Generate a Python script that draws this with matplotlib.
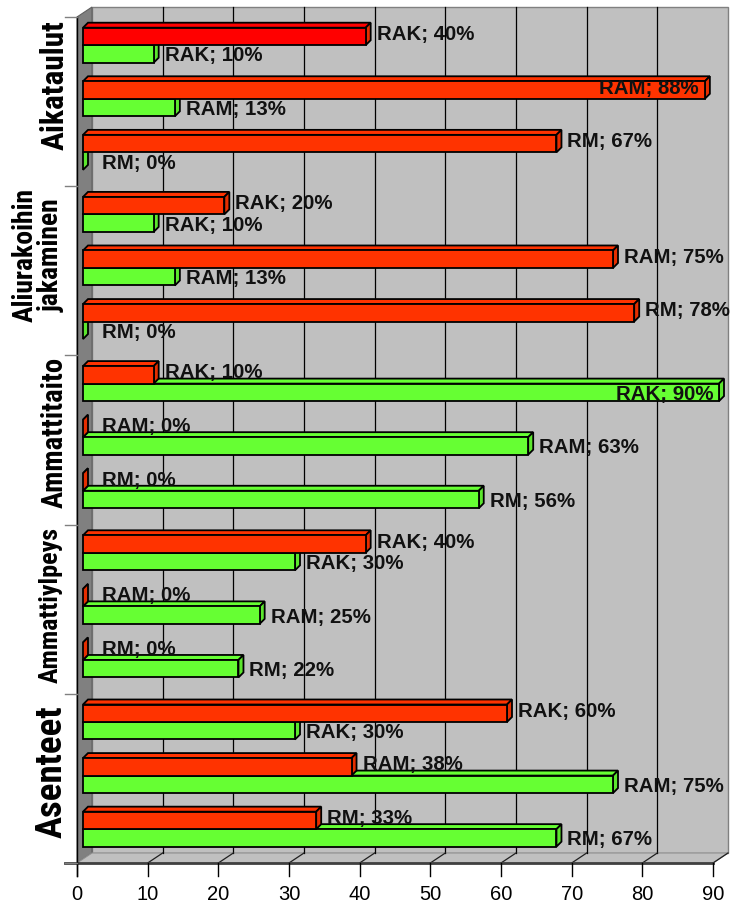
import matplotlib
matplotlib.use("Agg")
import matplotlib.pyplot as plt
from matplotlib.patches import Polygon
from matplotlib import font_manager
from matplotlib.font_manager import FontProperties

# ---- data ----
groups = ["Aikataulut", "Aliurakoihin\njakaminen", "Ammattitaito", "Ammattiylpeys", "Asenteet"]
roles = ["RAK", "RAM", "RM"]
red_values = [[40, 88, 67], [20, 75, 78], [10, 0, 0], [40, 0, 0], [60, 38, 33]]
green_values = [[10, 13, 0], [10, 13, 0], [90, 63, 56], [30, 25, 22], [30, 75, 67]]
x_ticks = [0, 10, 20, 30, 40, 50, 60, 70, 80, 90]

# ---- styling ----
RED_FACE, RED_SIDE = "#FF3300", "#E62E00"
RED_FIRST = "#FF0000"
GREEN_FACE, GREEN_SIDE = "#66FF33", "#5CE62E"
WALL, SIDE_WALL, FLOOR = "#C0C0C0", "#808080", "#C0C0C0"

available = {f.name for f in font_manager.fontManager.ttflist}
label_family = "Liberation Sans" if "Liberation Sans" in available else "DejaVu Sans"


def condensed_bold():
    """Pick a narrow bold face for the rotated category names if one exists."""
    entries = font_manager.fontManager.ttflist
    wanted = ["Liberation Sans Narrow", "Arial Narrow", "Roboto Condensed",
              "Open Sans Condensed", "DejaVu Sans Condensed"]
    for name in wanted:
        for f in entries:
            if f.name == name and f.weight in ("bold", 700) and f.style == "normal":
                return FontProperties(fname=f.fname)
    for f in entries:
        fn = f.fname.lower()
        if ("condensed" in fn or "narrow" in fn) and "bold" in fn \
                and "oblique" not in fn and "italic" not in fn:
            return FontProperties(fname=f.fname)
    for f in entries:
        if f.stretch in ("condensed", "semi-condensed", "extra-condensed") \
                and f.weight in ("bold", 700) and f.style == "normal":
            return FontProperties(fname=f.fname)
    return FontProperties(family=label_family, weight="bold")


cat_font = condensed_bold()

W, H, DPI = 731, 908, 100
fig = plt.figure(figsize=(W / DPI, H / DPI), dpi=DPI)
fig.patch.set_facecolor("white")

# front plane of the 3-D box, in pixels
left_px, right_px, top_px, bottom_px = 77, 713, 17, 863
ax = fig.add_axes([left_px / W, (H - bottom_px) / H,
                   (right_px - left_px) / W, (bottom_px - top_px) / H])
n_slots = 3 * len(groups)
xmax = x_ticks[-1]
ax.set_xlim(0, xmax)
ax.set_ylim(n_slots, 0)
ax.axis("off")

ux = xmax / (right_px - left_px)          # data units per pixel (x)
uy = n_slots / (bottom_px - top_px)       # slots per pixel (y)
DX, DY = 15 * ux, 10 * uy                 # wall depth
BX = 6 * ux                               # bar front offset from the wall
ddx, ddy = 5 * ux, 5 * uy                 # bar depth
bar_h = 17.5 * uy
pair_step = 0.95


def poly(pts, fc, ec="none", lw=0.0, z=1):
    ax.add_patch(Polygon(pts, closed=True, facecolor=fc, edgecolor=ec,
                         linewidth=lw, zorder=z, clip_on=False,
                         joinstyle="miter"))


# walls and floor
poly([(DX, -DY), (xmax + DX, -DY), (xmax + DX, n_slots - DY), (DX, n_slots - DY)],
     WALL, "#808080", 1.0, 0)
poly([(0, 0), (DX, -DY), (DX, n_slots - DY), (0, n_slots)], SIDE_WALL, "#606060", 0.8, 0.5)
poly([(0, n_slots), (xmax, n_slots), (xmax + DX, n_slots - DY), (DX, n_slots - DY)],
     FLOOR, "#909090", 0.8, 0.5)

# gridlines on the back wall and floor
for v in x_ticks[1:-1]:
    ax.plot([v + DX, v + DX], [-DY, n_slots - DY], color="black", lw=0.9, zorder=0.6,
            clip_on=False)
for v in x_ticks[1:]:
    ax.plot([v, v + DX], [n_slots, n_slots - DY], color="#202020", lw=0.9, zorder=0.6,
            clip_on=False)

# axis lines and ticks
ax.plot([-12 * ux, xmax], [n_slots, n_slots], color="#404040", lw=2.0, zorder=0.7,
        clip_on=False)
ax.plot([0, 0], [0, n_slots + 13 * uy], color="black", lw=1.0, zorder=0.7, clip_on=False)
for v in x_ticks:
    ax.plot([v, v], [n_slots, n_slots + 13 * uy], color="black", lw=1.0, clip_on=False)
    ax.text(v, n_slots + 32 * uy, str(v), ha="center", va="center", fontsize=14.5,
            family=label_family, color="black")
for g in range(len(groups) + 1):
    ax.plot([-12 * ux, 0], [3 * g, 3 * g], color="#808080", lw=1.0, clip_on=False)


def bar3d(y_top, y_bot, value, face, side):
    x0, x1 = BX, BX + value
    ec, lw = "black", 1.3
    poly([(x0, y_top), (x1, y_top), (x1 + ddx, y_top - ddy), (x0 + ddx, y_top - ddy)],
         face, ec, lw, 2)
    poly([(x1, y_top), (x1 + ddx, y_top - ddy), (x1 + ddx, y_bot - ddy), (x1, y_bot)],
         side, ec, lw, 2)
    if value > 0:
        poly([(x0, y_top), (x1, y_top), (x1, y_bot), (x0, y_bot)], face, ec, lw, 2)


label_kw = dict(fontsize=14.7, fontweight="bold", family=label_family, color="#111111",
                zorder=5)


def value_label(value, role, yc):
    text = f"{role}; {value}%"
    if value > 85:
        ax.text(BX + value - 6 * ux, yc, text, ha="right", va="center", **label_kw)
    else:
        gap = 11 if value > 0 else 19
        ax.text(BX + value + gap * ux, yc, text, ha="left", va="center", **label_kw)


for g in range(len(groups)):
    for k, role in enumerate(roles):
        c = 3 * g + 0.5 + pair_step * k
        rv, gv = red_values[g][k], green_values[g][k]
        bar3d(c, c + bar_h, gv, GREEN_FACE, GREEN_SIDE)
        face = RED_FIRST if (g == 0 and k == 0) else RED_FACE
        bar3d(c - bar_h, c, rv, face, RED_SIDE)
        value_label(rv, role, c - bar_h / 2 - 2 * uy)
        value_label(gv, role, c + bar_h / 2 + 2 * uy)

# category labels, rotated and fitted to their slot
cat_x_px = [55, 38, 55, 51, 52]
cat_y_shift_px = [-17, -16, -8, -4, -7]
cat_len_px = [130, 134, 150, 155, 132]
fig.canvas.draw()
renderer = fig.canvas.get_renderer()
for g, name in enumerate(groups):
    yc = 3 * g + 1.5 + cat_y_shift_px[g] * uy
    xc = (cat_x_px[g] - left_px) * ux
    fp = cat_font.copy()
    fp.set_size(20)
    t = ax.text(xc, yc, name, rotation=90, ha="center", va="center",
                fontproperties=fp, color="black",
                multialignment="center", linespacing=0.95, clip_on=False)
    ext = t.get_window_extent(renderer=renderer)
    t.set_fontsize(20 * cat_len_px[g] / ext.height)

fig.savefig("out.png", dpi=DPI, facecolor="white")
